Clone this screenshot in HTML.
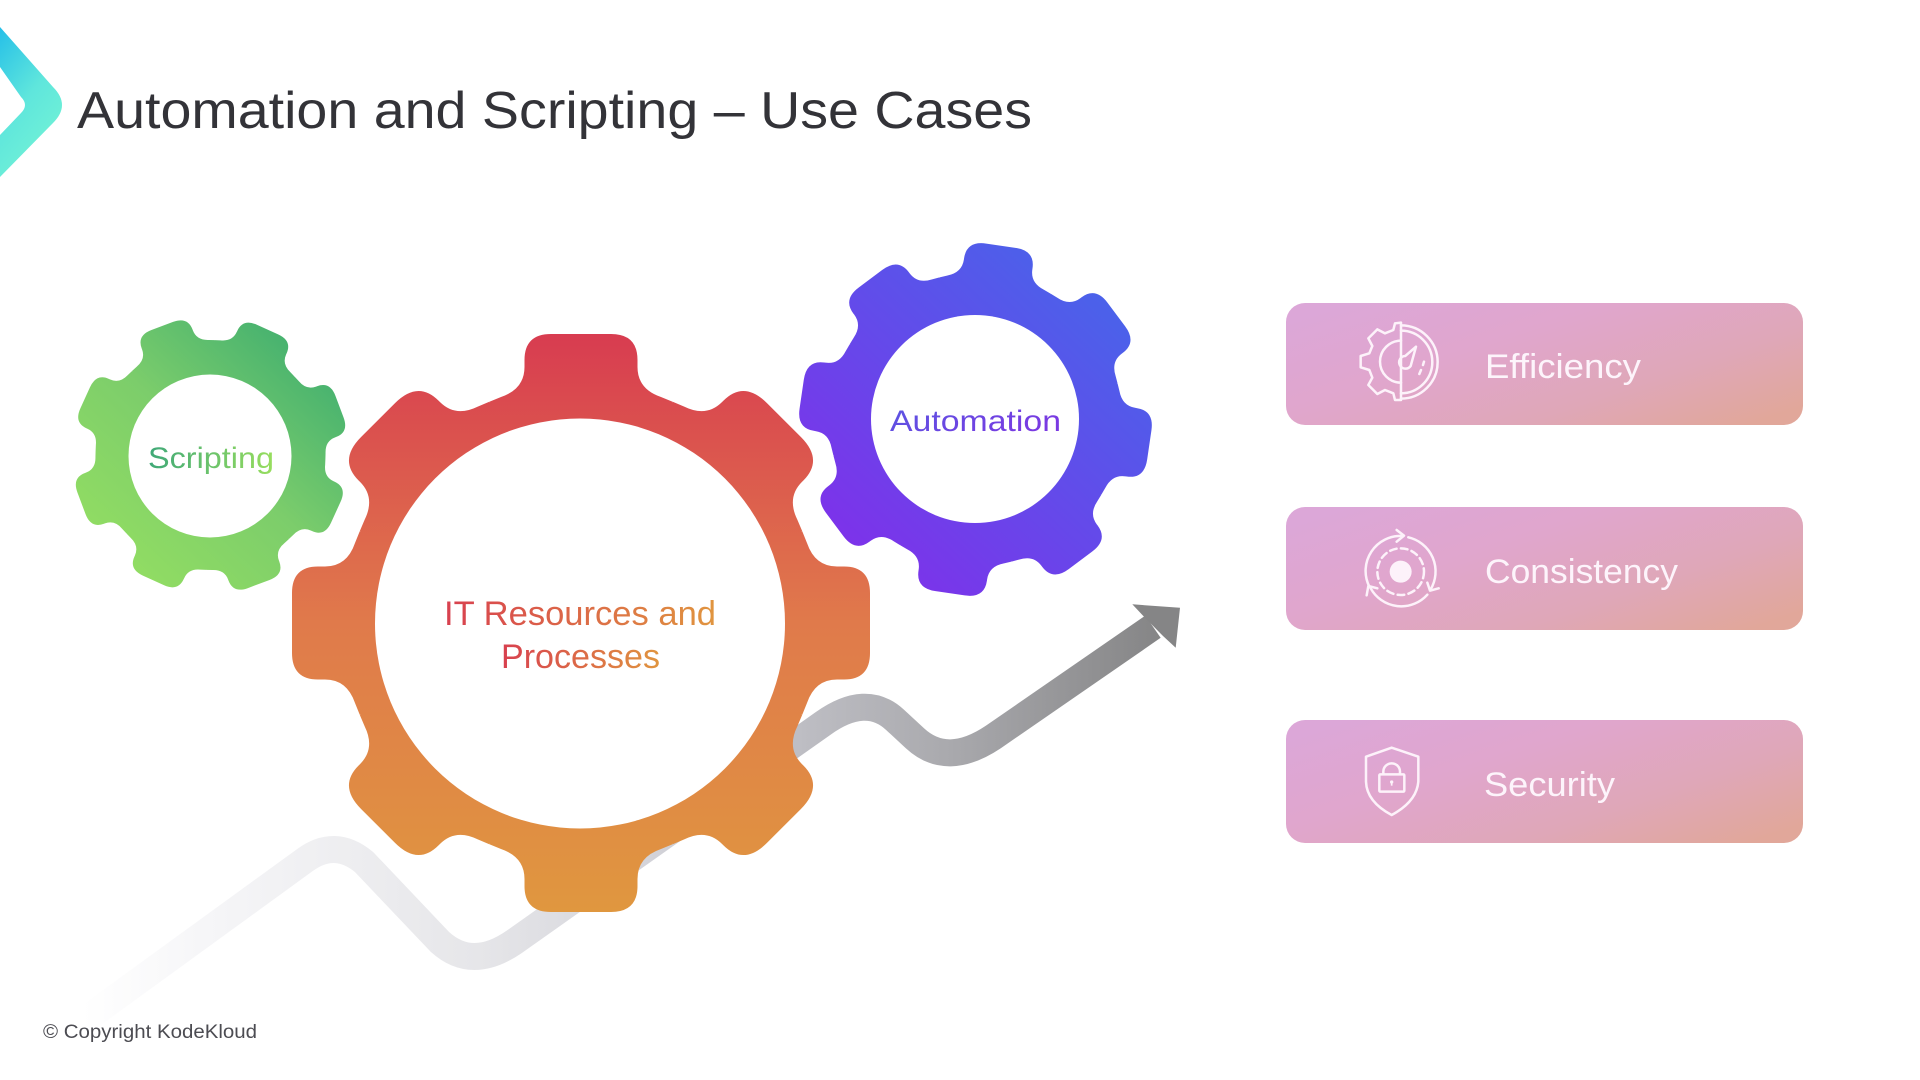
<!DOCTYPE html>
<html><head><meta charset="utf-8"><title>Automation and Scripting – Use Cases</title>
<style>html,body{margin:0;padding:0;background:#fff;width:1920px;height:1080px;overflow:hidden}svg{display:block}text{font-family:"Liberation Sans",sans-serif}</style></head>
<body>
<svg width="1920" height="1080" viewBox="0 0 1920 1080" xmlns="http://www.w3.org/2000/svg">
<defs>
<path id="t" d="M0,0 L-91.6,-221.3 L-80,-226 Q-56.5,-234 -56.5,-256 L-56.5,-263 Q-56.5,-289 -30,-289 L30,-289 Q56.5,-289 56.5,-263 L56.5,-256 Q56.5,-234 80,-226 L91.6,-221.3 Z"/>
<path id="s" d="M0,0 L-91.6,-221.3 L-80,-226 Q-56.5,-234 -56.5,-256 L-56.5,-258 Q-56.5,-287 -24,-287 L24,-287 Q56.5,-287 56.5,-258 L56.5,-256 Q56.5,-234 80,-226 L91.6,-221.3 Z"/>
<g id="gearM">
<circle r="238.5"/>
<use href="#t"/><use href="#s" transform="rotate(45)"/><use href="#t" transform="rotate(90)"/><use href="#s" transform="rotate(135)"/><use href="#t" transform="rotate(180)"/><use href="#s" transform="rotate(225)"/><use href="#t" transform="rotate(270)"/><use href="#s" transform="rotate(315)"/>
</g>
<g id="gearS">
<circle r="238.5"/>
<use href="#s"/><use href="#s" transform="rotate(45)"/><use href="#s" transform="rotate(90)"/><use href="#s" transform="rotate(135)"/><use href="#s" transform="rotate(180)"/><use href="#s" transform="rotate(225)"/><use href="#s" transform="rotate(270)"/><use href="#s" transform="rotate(315)"/>
</g>
<linearGradient id="logo" x1="0" y1="0" x2="0.5" y2="1"><stop offset="0" stop-color="#25bfe8"/><stop offset="0.55" stop-color="#5fe6dc"/><stop offset="1" stop-color="#72f2d6"/></linearGradient>
<linearGradient id="gO" gradientUnits="userSpaceOnUse" x1="0" y1="334" x2="0" y2="912"><stop offset="0" stop-color="#d83c50"/><stop offset="0.5" stop-color="#e07a4b"/><stop offset="1" stop-color="#e0973f"/></linearGradient>
<linearGradient id="gG" gradientUnits="userSpaceOnUse" x1="110" y1="570" x2="320" y2="340"><stop offset="0" stop-color="#93de62"/><stop offset="0.5" stop-color="#7ccd6b"/><stop offset="1" stop-color="#3fae70"/></linearGradient>
<linearGradient id="gP" gradientUnits="userSpaceOnUse" x1="860" y1="550" x2="1100" y2="290"><stop offset="0" stop-color="#7c33ea"/><stop offset="1" stop-color="#4a62ea"/></linearGradient>
<linearGradient id="tO" x1="0" y1="0" x2="1" y2="0"><stop offset="0" stop-color="#d8404f"/><stop offset="1" stop-color="#e0953f"/></linearGradient>
<linearGradient id="tG" x1="0" y1="0" x2="1" y2="0"><stop offset="0" stop-color="#3fa878"/><stop offset="1" stop-color="#98de5e"/></linearGradient>
<linearGradient id="tP" x1="0" y1="0" x2="1" y2="0.4"><stop offset="0" stop-color="#5a55e2"/><stop offset="1" stop-color="#7a3ae2"/></linearGradient>
<linearGradient id="trail" gradientUnits="userSpaceOnUse" x1="60" y1="0" x2="1160" y2="0"><stop offset="0.02" stop-color="#ffffff"/><stop offset="0.13" stop-color="#f6f6f8"/><stop offset="0.38" stop-color="#e6e6e9"/><stop offset="0.53" stop-color="#d4d4da"/><stop offset="0.67" stop-color="#bebec4"/><stop offset="0.81" stop-color="#a9a9ad"/><stop offset="1" stop-color="#858586"/></linearGradient>
<linearGradient id="card" x1="0" y1="0.15" x2="1" y2="0.85"><stop offset="0" stop-color="#dca7d8"/><stop offset="0.35" stop-color="#e0a6cd"/><stop offset="0.7" stop-color="#dfa7b8"/><stop offset="1" stop-color="#e1a79a"/></linearGradient>
<mask id="mO" maskUnits="userSpaceOnUse" x="0" y="0" width="1920" height="1080"><use href="#gearM" fill="#fff" transform="translate(581,623)"/><circle cx="580" cy="623.5" r="205" fill="#000"/></mask>
<mask id="mG" maskUnits="userSpaceOnUse" x="0" y="0" width="1920" height="1080"><use href="#gearS" fill="#fff" transform="translate(210.5,455) scale(.48) rotate(24.5)"/><circle cx="210" cy="456" r="81.5" fill="#000"/></mask>
<mask id="mP" maskUnits="userSpaceOnUse" x="0" y="0" width="1920" height="1080"><use href="#gearS" fill="#fff" transform="translate(975.5,419.5) scale(.612) rotate(8.3)"/><circle cx="975" cy="419" r="104" fill="#000"/></mask>
</defs>
<rect width="1920" height="1080" fill="#fff"/>

<path d="M0,27 L53,87 Q71,105 53,123 L0,177 L0,135 L21,113 Q29,105 21,97 L0,67 Z" fill="url(#logo)"/>
<text x="77" y="128" font-size="52" fill="#333338" textLength="955" lengthAdjust="spacingAndGlyphs">Automation and Scripting – Use Cases</text>

<path d="M60,1038 L305,860 Q335,838 364,862 L440,942 Q472,971 514,942 L823.3,723.3 Q866,693 895,719.8 L915,738.3 Q947,768 993.3,737 L1153,626.7" fill="none" stroke="url(#trail)" stroke-width="27"/>
<polygon points="1132.3,604.3 1180,607.7 1175.7,647.7 1163.3,636.3 1143.3,616" fill="#858586"/>

<rect x="0" y="300" width="900" height="640" fill="url(#gO)" mask="url(#mO)"/>
<rect x="60" y="300" width="300" height="310" fill="url(#gG)" mask="url(#mG)"/>
<rect x="780" y="220" width="400" height="400" fill="url(#gP)" mask="url(#mP)"/>

<text x="148" y="468" font-size="30" fill="url(#tG)" textLength="126" lengthAdjust="spacingAndGlyphs">Scripting</text>
<text x="890" y="431" font-size="30" fill="url(#tP)" textLength="171" lengthAdjust="spacingAndGlyphs">Automation</text>
<text x="444" y="625" font-size="34" fill="url(#tO)" textLength="272" lengthAdjust="spacingAndGlyphs">IT Resources and</text>
<text x="501" y="668" font-size="34" fill="url(#tO)" textLength="159" lengthAdjust="spacingAndGlyphs">Processes</text>

<rect x="1286" y="303" width="517" height="122" rx="19" fill="url(#card)"/>
<rect x="1286" y="507" width="517" height="123" rx="19" fill="url(#card)"/>
<rect x="1286" y="720" width="517" height="123" rx="19" fill="url(#card)"/>
<text x="1485" y="378" font-size="34" fill="#fdf4fb" textLength="156" lengthAdjust="spacingAndGlyphs">Efficiency</text>
<text x="1485" y="583" font-size="34" fill="#fdf4fb" textLength="193" lengthAdjust="spacingAndGlyphs">Consistency</text>
<text x="1484" y="796" font-size="34" fill="#fdf4fb" textLength="131" lengthAdjust="spacingAndGlyphs">Security</text>

<g transform="translate(1340,310) scale(.3333)" fill="none" stroke="#fdf2fa" stroke-width="7.5" stroke-linejoin="round" stroke-linecap="round">
<polyline points="183,38 165,40 160,60 135,70 112,58 85,85 97,108 88,130 62,138 62,172 88,180 97,203 85,225 112,252 135,240 160,250 165,270 183,270 183,38"/>
<path d="M183,46 A110,110 0 0 1 183,266"/>
<path d="M183,62 A93,93 0 0 1 183,250"/>
<path d="M183,92 A63,63 0 0 0 183,218"/>
<path d="M228,110 L196,138 A19,19 0 1 0 212,168 Z"/>
<path d="M252,155 L249,165 M243,180 L238,192"/>
</g>
<g transform="translate(1340,520) scale(.3333)" fill="none" stroke="#fdf2fa" stroke-width="7.5" stroke-linecap="round" stroke-linejoin="round">
<path d="M88,200 A105,105 0 0 1 188,48"/>
<path d="M170,30 L192,47 L170,65"/>
<path d="M205,52 A105,105 0 0 1 272,208"/>
<path d="M262,188 L270,212 L296,205"/>
<path d="M262,224 A105,105 0 0 1 92,205"/>
<path d="M80,226 L85,198 L112,205"/>
<circle cx="182" cy="155" r="70" stroke-dasharray="20 13"/>
<circle cx="182" cy="155" r="33" fill="#fdf2fa" stroke="none"/>
</g>
<g transform="translate(1340,735) scale(.3333)" fill="none" stroke="#fdf2fa" stroke-width="7.5" stroke-linejoin="round">
<path d="M155,38 L235,65 L235,140 Q230,200 155,240 Q80,200 78,140 L78,65 Z"/>
<rect x="118" y="118" width="75" height="52" rx="3"/>
<path d="M130,118 L130,110 A25,25 0 0 1 180,110 L180,118"/>
<circle cx="155" cy="141" r="5" fill="#fdf2fa" stroke="none"/>
<rect x="152.5" y="141" width="5" height="11" fill="#fdf2fa" stroke="none"/>
</g>

<text x="43" y="1038" font-size="19" fill="#4c4c52" textLength="214" lengthAdjust="spacingAndGlyphs">© Copyright KodeKloud</text>
</svg>
</body></html>
